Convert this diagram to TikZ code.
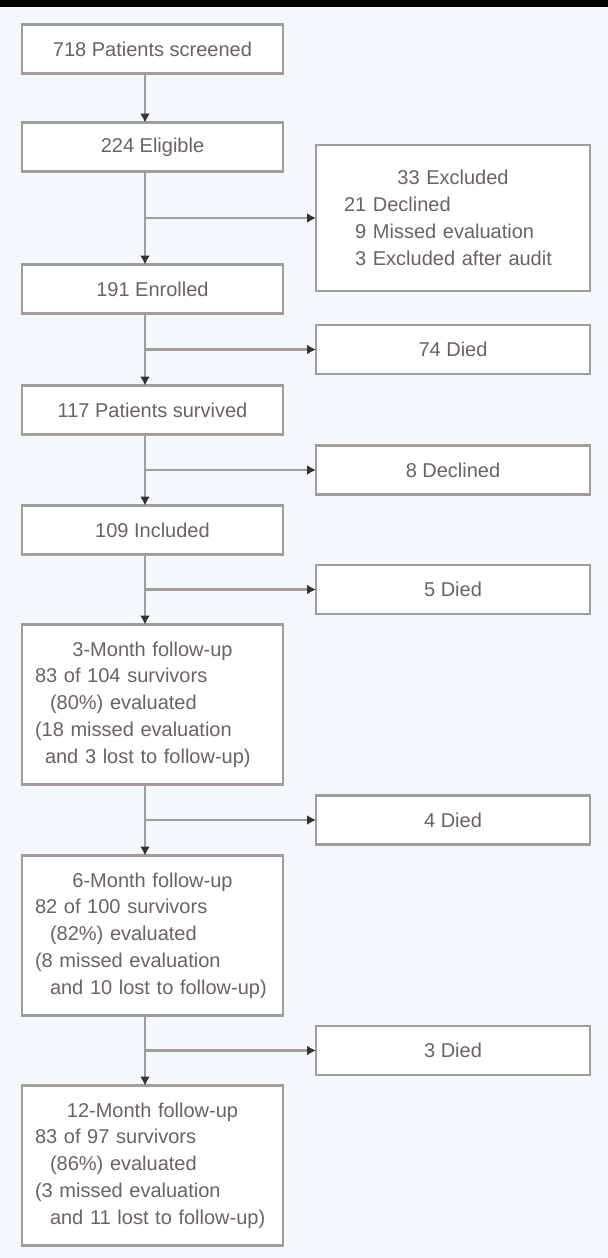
\documentclass[tikz,border=0pt]{standalone}
\usepackage{fontspec}
\setmainfont{Liberation Sans}
\usepackage{tikz}
\usetikzlibrary{arrows.meta,positioning,calc}
\definecolor{linegrey}{HTML}{A39C9C}
\definecolor{textgrey}{HTML}{6B6363}
\definecolor{tipgrey}{HTML}{363131}
\definecolor{bgblue}{HTML}{F5F8FA}
\newcommand{\fuphead}[1]{\makebox[117.5pt][c]{#1}}
\newcommand{\exhead}[1]{\makebox[109pt][c]{#1}}

\begin{document}
\begin{tikzpicture}[
    node distance=35.5pt,
    box/.style={draw=linegrey, line width=1.3pt, fill=white, text=textgrey, font=\fontsize{10}{13.4}\selectfont, minimum width=130.5pt, minimum height=24.5pt, inner sep=0pt, outer sep=0pt, align=center},
    fup/.style={box, minimum height=80pt, text width=117.5pt, inner xsep=6.5pt, align=left},
    side/.style={box, minimum width=137pt},
    arr/.style={draw=linegrey, line width=1.3pt, -{Latex[length=4.5pt,width=5pt,color=tipgrey]}}
]
\fill[bgblue] (0,0) rectangle (304pt,-629pt);
\fill[black] (0,0) rectangle (304pt,-3.5pt);
\useasboundingbox (0,0) rectangle (304pt,-629pt);
\coordinate (sp) at (72.5pt,0);
\node[box] (screen) at (76.25pt,-24.5pt) {718 Patients screened};
\node[box, below=24.5pt of screen] (elig) {224 Eligible};
\node[box, below=46.5pt of elig] (enrol) {191 Enrolled};
\node[box, below=36pt of enrol] (surv) {117 Patients survived};
\node[box, below=of surv] (incl) {109 Included};
\node[fup, below=35pt of incl] (fu3) {\fuphead{3-Month follow-up}\\83 of 104 survivors\\\hspace*{7.5pt}(80\%) evaluated\\(18 missed evaluation\\\hspace*{5pt}and 3 lost to follow-up)};
\node[fup, below=of fu3] (fu6) {\fuphead{6-Month follow-up}\\82 of 100 survivors\\\hspace*{7.5pt}(82\%) evaluated\\(8 missed evaluation\\\hspace*{7.5pt}and 10 lost to follow-up)};
\node[fup, below=35pt of fu6] (fu12) {\fuphead{12-Month follow-up}\\83 of 97 survivors\\\hspace*{7.5pt}(86\%) evaluated\\(3 missed evaluation\\\hspace*{7.5pt}and 11 lost to follow-up)};
\coordinate (j1) at ($(elig.south -| sp)!.5!(enrol.north -| sp)$);
\coordinate (j2) at ($(enrol.south -| sp)!.5!(surv.north -| sp)$);
\coordinate (j3) at ($(surv.south -| sp)!.5!(incl.north -| sp)$);
\coordinate (j4) at ($(incl.south -| sp)!.5!(fu3.north -| sp)$);
\coordinate (j5) at ($(fu3.south -| sp)!.5!(fu6.north -| sp)$);
\coordinate (j6) at ($(fu6.south -| sp)!.5!(fu12.north -| sp)$);
\node[side, text width=109pt, inner xsep=14pt, align=left, minimum height=73pt, right=85.5pt of j1] (excl) {\exhead{33 Excluded}\\21 Declined\\\phantom{2}9 Missed evaluation\\\phantom{2}3 Excluded after audit};
\node[side, right=85.5pt of j2] (died1) {74 Died};
\node[side, right=85.5pt of j3] (decl) {8 Declined};
\node[side, right=85.5pt of j4] (died2) {5 Died};
\node[side, right=85.5pt of j5] (died3) {4 Died};
\node[side, right=85.5pt of j6] (died4) {3 Died};
\draw[arr] (screen.south -| sp) -- (elig.north -| sp);
\draw[arr] (elig.south -| sp) -- (enrol.north -| sp);
\draw[arr] (enrol.south -| sp) -- (surv.north -| sp);
\draw[arr] (surv.south -| sp) -- (incl.north -| sp);
\draw[arr] (incl.south -| sp) -- (fu3.north -| sp);
\draw[arr] (fu3.south -| sp) -- (fu6.north -| sp);
\draw[arr] (fu6.south -| sp) -- (fu12.north -| sp);
\draw[arr] (j1) -- (excl);
\draw[arr] (j2) -- (died1);
\draw[arr] (j3) -- (decl);
\draw[arr] (j4) -- (died2);
\draw[arr] (j5) -- (died3);
\draw[arr] (j6) -- (died4);
\end{tikzpicture}
\end{document}
